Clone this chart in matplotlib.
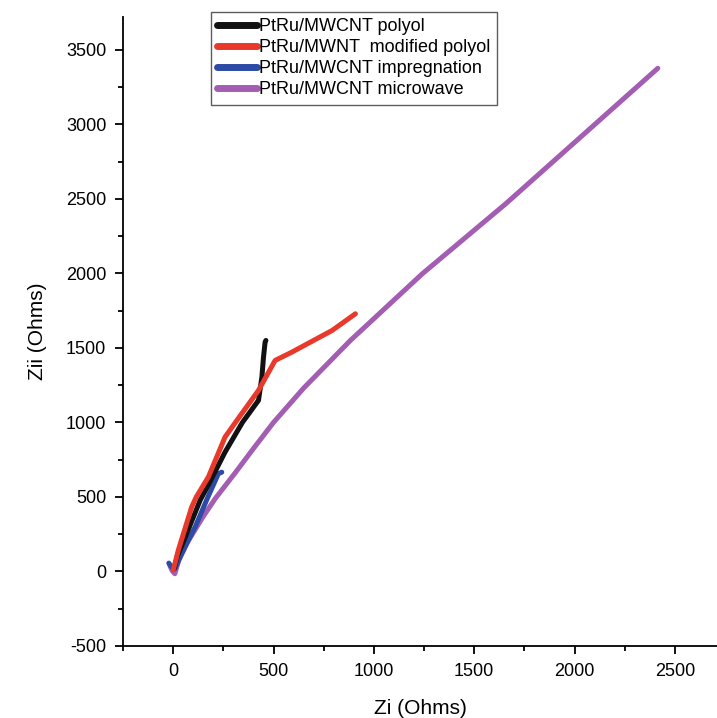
import numpy as np
import matplotlib
matplotlib.use('Agg')
import matplotlib.pyplot as plt
from matplotlib.ticker import MultipleLocator

plt.rcParams['font.family'] = ['Liberation Sans', 'DejaVu Sans']
plt.rcParams['axes.unicode_minus'] = False

# Nyquist data (Zi, Zii in Ohms)
polyol_zr = [5, 20, 60, 135, 175, 258, 345, 425, 442, 450, 458, 462]
polyol_zi = [20, 100, 230, 480, 580, 800, 1000, 1148, 1304, 1438, 1539, 1550]

modpolyol_zr = [0, 10, 25, 92, 115, 175, 258, 310, 425, 508, 592, 792, 908]
modpolyol_zi = [10, 60, 141, 432, 500, 633, 901, 1000, 1215, 1416, 1472, 1617, 1729]

impreg_zr = [-22, -5, 8, 58, 110, 170, 225, 242]
impreg_zi = [56, 25, 18, 163, 300, 490, 656, 666]

microwave_zr = [-17, -5, 8, 30, 75, 150, 210, 308, 400, 500, 650, 883, 1242, 1658, 2415]
microwave_zi = [40, 5, -15, 85, 205, 370, 490, 660, 825, 1000, 1230, 1550, 1998, 2468, 3376]

LABELS = ['PtRu/MWCNT polyol', 'PtRu/MWNT  modified polyol',
          'PtRu/MWCNT impregnation', 'PtRu/MWCNT microwave']
COLORS = ['#111111', '#E8392B', '#2D4BA6', '#A35DB3']

fig = plt.figure(figsize=(7.17, 7.18), dpi=100)
ax = fig.add_axes([0.1716, 0.1003, 0.8284, 0.8760])

series = [(polyol_zr, polyol_zi), (modpolyol_zr, modpolyol_zi),
          (impreg_zr, impreg_zi), (microwave_zr, microwave_zi)]
lines = []
for (xr, yi), c, lab in zip(series, COLORS, LABELS):
    ln, = ax.plot(xr, yi, color=c, lw=3.6, solid_capstyle='round',
                  solid_joinstyle='round', label=lab)
    lines.append(ln)
# microwave underneath, the others drawn over it
lines[3].set_zorder(2); lines[2].set_zorder(3); lines[0].set_zorder(4); lines[1].set_zorder(5)

ax.set_xlim(-250, 2710)
ax.set_ylim(-500, 3720)
ax.set_xticks([0, 500, 1000, 1500, 2000, 2500])
ax.xaxis.set_minor_locator(MultipleLocator(250))
ax.yaxis.set_major_locator(MultipleLocator(500))
ax.yaxis.set_minor_locator(MultipleLocator(250))
ax.spines[['top', 'right']].set_visible(False)
for s in ['left', 'bottom']:
    ax.spines[s].set_linewidth(1.3)
ax.tick_params(which='major', direction='out', length=6, width=1.3, labelsize=13, pad=6)
ax.tick_params(which='minor', direction='out', length=3.5, width=1.3)

ax.set_xlabel('Zi (Ohms)', fontsize=15, labelpad=14)
ax.set_ylabel('Zii (Ohms)', fontsize=15, labelpad=14)

leg = fig.legend(handles=lines, loc='upper left', bbox_to_anchor=(211/717, 1 - 12/718),
                 fontsize=13, frameon=True, fancybox=False, edgecolor='#333333',
                 handlelength=2.2, handletextpad=0.1, labelspacing=0.22,
                 borderpad=0.35, borderaxespad=0)
leg.get_frame().set_linewidth(1.0)
for h in leg.legend_handles:
    h.set_linewidth(5)

fig.savefig('out.png', dpi=100, facecolor='white')
